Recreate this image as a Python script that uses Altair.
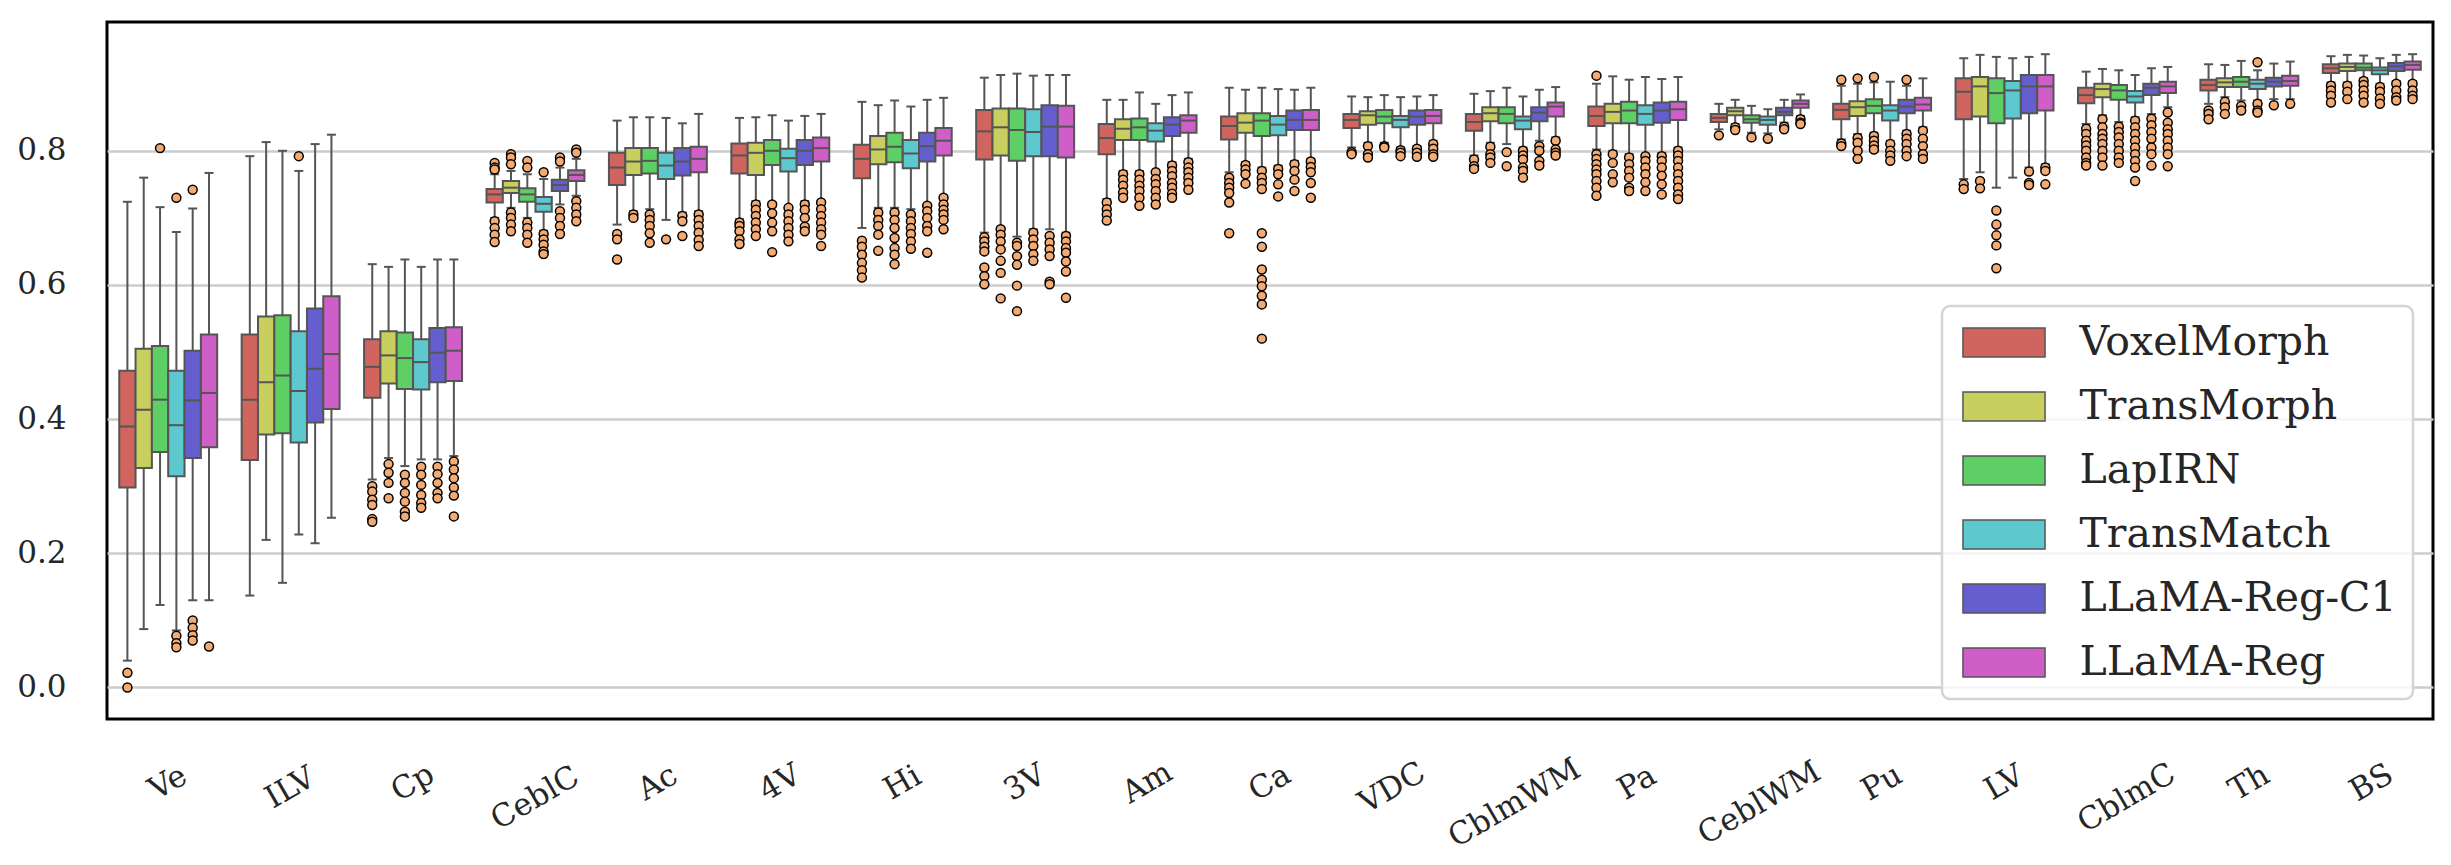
import altair as alt
import pandas as pd

cats = ["Ve", "ILV", "Cp", "CeblC", "Ac", "4V", "Hi", "3V", "Am", "Ca", "VDC",
        "CblmWM", "Pa", "CeblWM", "Pu", "LV", "CblmC", "Th", "BS"]
methods = ["VoxelMorph", "TransMorph", "LapIRN", "TransMatch", "LLaMA-Reg-C1", "LLaMA-Reg"]
colors = ["#cf655e", "#c8cf5e", "#5ecf65", "#5ec8cf", "#655ecf", "#cf5ec8"]
yticks = [0.0, 0.2, 0.4, 0.6, 0.8]

# (lower whisker, Q1, median, Q3, upper whisker) per category
voxelmorph_box = [(.040, .298, .389, .472, .724), (.137, .339, .429, .526, .792), (.310, .432, .478, .519, .631),
                  (.700, .723, .735, .743, .765), (.690, .749, .775, .797, .845), (.698, .766, .793, .811, .849),
                  (.685, .759, .788, .809, .873), (.678, .787, .829, .861, .909), (.728, .795, .819, .840, .876),
                  (.768, .817, .837, .851, .894), (.805, .834, .846, .855, .881), (.793, .830, .843, .855, .885),
                  (.802, .837, .852, .866, .900), (.832, .843, .849, .855, .870), (.817, .847, .861, .870, .897),
                  (.758, .847, .888, .908, .938), (.840, .871, .883, .894, .918), (.870, .890, .898, .906, .929),
                  (.902, .916, .923, .929, .941)]
transmorph_box = [(.087, .327, .414, .505, .760), (.220, .377, .455, .553, .813), (.342, .453, .495, .531, .627),
                  (.715, .737, .745, .755, .770), (.710, .764, .784, .804, .850), (.725, .764, .797, .812, .850),
                  (.715, .780, .802, .822, .868), (.686, .793, .835, .863, .913), (.770, .816, .833, .847, .876),
                  (.783, .827, .842, .856, .891), (.812, .839, .853, .859, .880), (.812, .844, .856, .865, .889),
                  (.800, .841, .858, .870, .911), (.840, .853, .859, .864, .876), (.825, .852, .865, .874, .900),
                  (.768, .851, .896, .910, .943), (.853, .880, .892, .900, .922), (.880, .895, .902, .908, .928),
                  (.902, .919, .925, .930, .943)]
lapirn_box = [(.123, .351, .429, .509, .716), (.156, .379, .465, .555, .800), (.330, .445, .491, .529, .638),
              (.700, .724, .735, .744, .765), (.713, .766, .785, .804, .850), (.723, .779, .800, .816, .853),
              (.715, .783, .806, .827, .875), (.672, .785, .831, .863, .915), (.770, .816, .835, .848, .887),
              (.775, .822, .845, .856, .894), (.812, .841, .851, .861, .883), (.810, .841, .855, .865, .894),
              (.795, .841, .860, .873, .906), (.827, .842, .847, .853, .867), (.827, .856, .867, .877, .902),
              (.745, .841, .886, .908, .940), (.843, .876, .890, .898, .920), (.875, .895, .903, .910, .934),
              (.908, .920, .924, .930, .942)]
transmatch_box = [(.085, .315, .391, .472, .679), (.228, .365, .442, .531, .770), (.340, .444, .485, .519, .627),
                  (.681, .709, .721, .731, .758), (.697, .758, .778, .797, .849), (.718, .769, .789, .803, .845),
                  (.713, .774, .796, .816, .866), (.683, .792, .828, .862, .912), (.770, .814, .830, .841, .870),
                  (.778, .823, .839, .852, .892), (.805, .835, .846, .852, .880), (.805, .832, .845, .851, .881),
                  (.795, .839, .855, .868, .910), (.826, .839, .846, .851, .862), (.815, .845, .860, .868, .903),
                  (.760, .848, .890, .904, .938), (.850, .872, .881, .889, .913), (.875, .892, .900, .906, .920),
                  (.900, .914, .920, .924, .938)]
llamaregc1_box = [(.130, .342, .428, .502, .714), (.215, .395, .475, .565, .810), (.340, .455, .499, .536, .638),
                  (.720, .740, .749, .757, .775), (.708, .763, .784, .804, .841), (.725, .779, .800, .816, .852),
                  (.720, .784, .807, .827, .876), (.683, .792, .836, .868, .913), (.783, .822, .839, .850, .883),
                  (.785, .831, .846, .860, .891), (.807, .839, .851, .860, .881), (.815, .844, .857, .865, .891),
                  (.797, .842, .860, .872, .907), (.842, .853, .858, .864, .876), (.830, .856, .866, .876, .897),
                  (.775, .856, .896, .913, .940), (.855, .883, .894, .900, .923), (.877, .896, .903, .909, .930),
                  (.904, .919, .926, .931, .943)]
llamareg_box = [(.130, .358, .439, .526, .767), (.253, .415, .497, .583, .824), (.345, .457, .502, .537, .638),
                (.733, .755, .764, .771, .788), (.710, .768, .788, .806, .855), (.725, .784, .804, .820, .855),
                (.733, .793, .815, .834, .879), (.678, .790, .836, .867, .913), (.788, .827, .845, .853, .887),
                (.788, .831, .846, .861, .894), (.815, .841, .852, .861, .883), (.820, .851, .866, .872, .895),
                (.805, .846, .862, .873, .910), (.852, .864, .870, .875, .884), (.835, .860, .869, .879, .908),
                (.780, .860, .896, .913, .944), (.865, .886, .896, .903, .925), (.877, .897, .904, .912, .933),
                (.904, .921, .928, .933, .944)]

# outliers per category
voxelmorph_out = [[.022, .0], [], [.300, .292, .280, .272, .251, .247],
                  [.782, .775, .772, .695, .685, .675, .664], [.676, .668, .638], [.693, .688, .680, .668, .661],
                  [.666, .657, .645, .633, .622, .611], [.671, .665, .657, .650, .626, .613, .601],
                  [.723, .713, .705, .696], [.760, .752, .745, .737, .723, .677], [.798, .795], [.787, .777, .773],
                  [.912, .795, .788, .780, .772, .765, .755, .745, .733], [.823], [.906, .811, .807], [.750, .743],
                  [.833, .825, .815, .808, .800, .790, .782, .778], [.860, .855, .847], [.897, .890, .882, .872]]
transmorph_out = [[], [], [.333, .320, .305, .282], [.795, .790, .780, .708, .700, .690, .680], [.705, .700],
                  [.720, .712, .703, .693, .683, .673], [.708, .697, .688, .675, .651],
                  [.683, .675, .665, .653, .636, .618, .580], [.765, .757, .748, .738, .730],
                  [.779, .772, .765, .751], [.807, .795, .790], [.806, .795, .790, .782], [.795, .782, .765, .753],
                  [.835, .831], [.908, .819, .812, .800, .788], [.755, .744],
                  [.847, .835, .825, .818, .810, .800, .790, .778], [.873, .865, .855], [.897, .888, .877]]
lapirn_out = [[.804], [], [.317, .305, .290, .277, .262, .255], [.785, .775, .693, .685, .675, .663],
              [.705, .697, .688, .677, .663], [.720, .707, .693, .680, .649],
              [.708, .697, .685, .670, .655, .645, .631], [.663, .658, .643, .630, .599, .561],
              [.765, .757, .748, .740, .730, .718],
              [.770, .760, .752, .743, .677, .657, .623, .608, .598, .584, .571, .520], [.807, .805], [.798, .777],
              [.790, .780, .770, .760, .745, .740], [.820], [.910, .822, .815, .808, .802],
              [.711, .690, .674, .659, .625], [.836, .828, .820, .810, .800, .790, .782], [.867, .860],
              [.904, .898, .890, .882, .872]]
transmatch_out = [[.730, .077, .066, .060], [.792], [.329, .317, .302, .287, .275, .268],
                  [.768, .676, .668, .660, .650, .646], [.668], [.715, .705, .695, .685, .675, .665],
                  [.705, .695, .685, .676, .665, .654], [.678, .668, .658, .646, .636],
                  [.768, .758, .750, .740, .730, .720], [.773, .765, .750, .732], [.801, .797, .792],
                  [.800, .793, .787, .775, .770, .760], [.792, .785, .775, .765, .753, .740], [.818],
                  [.810, .800, .793, .785], [], [.845, .835, .825, .815, .805, .795, .785, .775, .755],
                  [.932, .870, .860, .857], [.895, .888, .878, .870]]
llamaregc1_out = [[.742, .100, .089, .078, .070], [], [.329, .318, .305, .290, .282],
                  [.790, .784, .710, .700, .688, .676], [.703, .695, .673], [.720, .712, .700, .687, .680],
                  [.718, .710, .700, .688, .680, .648], [.673, .663, .653, .643, .605, .601],
                  [.778, .770, .762, .752, .745, .736, .730], [.780, .770, .757, .740], [.803, .797, .791],
                  [.807, .800, .785, .778], [.792, .785, .775, .763, .750, .735], [.836, .832],
                  [.906, .825, .818, .810, .800, .792], [.769, .752, .749],
                  [.848, .838, .828, .818, .805, .795, .778], [.868], [.900, .890, .880, .875]]
llamareg_out = [[.061], [], [.337, .325, .312, .298, .286, .255], [.802, .797, .725, .715, .705, .695],
                [.705, .697, .688, .678, .667, .658], [.723, .713, .703, .693, .683, .675, .658],
                [.730, .720, .712, .705, .697, .683], [.673, .665, .655, .648, .635, .620, .581],
                [.783, .775, .768, .760, .752, .742], [.784, .776, .768, .752, .730], [.810, .803, .795, .791],
                [.815, .802, .797, .793], [.800, .793, .785, .775, .765, .755, .745, .735, .728],
                [.847, .842, .840], [.830, .818, .807, .795, .788], [.775, .770, .750],
                [.857, .842, .832, .825, .815, .805, .795, .777], [.870], [.900, .890, .882, .877]]

boxes = [voxelmorph_box, transmorph_box, lapirn_box, transmatch_box, llamaregc1_box, llamareg_box]
outs = [voxelmorph_out, transmorph_out, lapirn_out, transmatch_out, llamaregc1_out, llamareg_out]

box_rows, out_rows = [], []
for m, box, out in zip(methods, boxes, outs):
    for c, (lo, q1, med, q3, hi), o in zip(cats, box, out):
        box_rows.append(dict(cat=c, method=m, lo=lo, q1=q1, med=med, q3=q3, hi=hi))
        for v in o:
            out_rows.append(dict(cat=c, method=m, val=v))
box_df = pd.DataFrame(box_rows)
out_df = pd.DataFrame(out_rows)
lab_df = pd.DataFrame({"cat": cats})

W, H = 2326, 697
band = W / len(cats) * 0.8 / len(methods)
FONT = "DejaVu Serif"
FS = 31
TXT = "#262626"
EDGE = "#555555"

y_axis = alt.Axis(
    title=None, values=yticks, format=".1f", labelFont=FONT, labelFontSize=FS,
    labelColor=TXT, ticks=False, tickSize=0, domain=False, grid=True,
    gridColor="#cccccc", gridWidth=2.5, labelPadding=41,
)
y_scale = alt.Scale(domain=[-0.047, 0.992], nice=False, zero=False)

X = alt.X("cat:N", sort=cats, scale=alt.Scale(paddingInner=0.2, paddingOuter=0.1), axis=None)
XO = alt.XOffset("method:N", sort=methods, scale=alt.Scale(paddingInner=0, paddingOuter=0))

base = alt.Chart(box_df)

whisk = base.mark_rule(color=EDGE, strokeWidth=2).encode(
    x=X, xOffset=XO, y=alt.Y("lo:Q", scale=y_scale, axis=y_axis), y2="hi:Q")
boxes_l = base.mark_bar(stroke=EDGE, strokeWidth=2).encode(
    x=X, xOffset=XO, y=alt.Y("q1:Q", scale=y_scale, axis=y_axis), y2="q3:Q",
    color=alt.Color("method:N", sort=methods, scale=alt.Scale(domain=methods, range=colors),
                    legend=alt.Legend(title=None)))
medians = base.mark_tick(color=EDGE, thickness=2, size=band, opacity=1).encode(
    x=X, xOffset=XO, y=alt.Y("med:Q", scale=y_scale, axis=y_axis))
caps_lo = base.mark_tick(color=EDGE, thickness=2, size=9, opacity=1).encode(
    x=X, xOffset=XO, y=alt.Y("lo:Q", scale=y_scale, axis=y_axis))
caps_hi = base.mark_tick(color=EDGE, thickness=2, size=9, opacity=1).encode(
    x=X, xOffset=XO, y=alt.Y("hi:Q", scale=y_scale, axis=y_axis))
fliers = alt.Chart(out_df).mark_point(
    filled=True, fill="#f3ab73", stroke="black", strokeWidth=1.5, size=80, opacity=1, shape="circle"
).encode(x=X, xOffset=XO, y=alt.Y("val:Q", scale=y_scale, axis=y_axis))

# rotated category labels: bounding box top aligned below the frame, centred on the group
xlabels = alt.Chart(lab_df).transform_calculate(
    ly=f"{H} + 54 + 0.25 * {FS} * 0.66 * length(datum.cat)"
).mark_text(
    angle=330, align="center", baseline="middle", font=FONT, fontSize=FS, color=TXT
).encode(x=X, y=alt.Y("ly:Q", scale=None, axis=None), text="cat:N")

chart = alt.layer(whisk, boxes_l, medians, caps_lo, caps_hi, fliers, xlabels).properties(
    width=W, height=H,
    padding={"left": 8, "top": 14, "right": 5, "bottom": 5},
    background="white",
).configure_view(
    stroke="black", strokeWidth=3
).configure_legend(
    orient="bottom-right", offset=20,
    labelFont=FONT, labelFontSize=41, labelColor=TXT, labelLimit=0,
    symbolType="M-2.83,-1L2.83,-1L2.83,1L-2.83,1Z", symbolSize=841,
    symbolStrokeColor=EDGE, symbolStrokeWidth=1.5, symbolOpacity=1,
    symbolOffset=25.5, labelOffset=55, rowPadding=22, padding=16,
    strokeColor="#d4d4d4", strokeWidth=2.5, cornerRadius=8, fillColor="rgba(255,255,255,0.8)",
)

chart.save("out.html", embed_options={"renderer": "svg", "actions": False})
